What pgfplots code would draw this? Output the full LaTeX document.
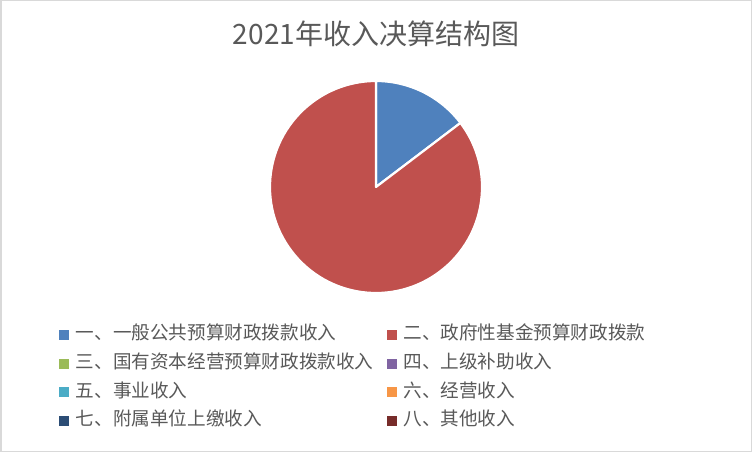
\documentclass[border=0pt]{standalone}
\usepackage{fontspec}
\setmainfont{Noto Sans CJK SC}
\usepackage{pgfplots}
\usepackage{pgfplotstable}
\pgfplotsset{compat=1.18}
\definecolor{c1}{HTML}{4F81BD}
\definecolor{c2}{HTML}{C0504D}
\definecolor{c3}{HTML}{9BBB59}
\definecolor{c4}{HTML}{8064A2}
\definecolor{c5}{HTML}{4BACC6}
\definecolor{c6}{HTML}{F79646}
\definecolor{c7}{HTML}{2C4D75}
\definecolor{c8}{HTML}{772C2A}
\definecolor{txt}{HTML}{595959}
\definecolor{frame}{HTML}{D9D9D9}
% share of each income item, percent
\pgfplotstableread{
id value
1 14.67
2 85.33
3 0
4 0
5 0
6 0
7 0
8 0
}\datatable
\pgfplotstablegetelem{0}{value}\of\datatable
\let\va\pgfplotsretval
\begin{document}
\begin{tikzpicture}
\begin{axis}[
  width=752bp, height=452bp, scale only axis,
  xmin=0, xmax=752, ymin=0, ymax=452,
  hide axis, clip=false,
  legend columns=2,
  legend cell align=left,
  legend image code/.code={\path[#1] (0bp,-5bp) rectangle (10bp,5bp);},
  legend style={
    at={(59/752,1-326/452)}, anchor=north west,
    draw=none, fill=none, inner sep=0pt, outer sep=0pt,
    font=\fontsize{18.6bp}{22bp}\selectfont, text=txt,
    row sep=10bp,
    nodes={inner sep=0pt, text height=14bp, text depth=4.6bp},
    /tikz/every odd column/.append style={column sep=7bp},
    /tikz/every even column/.append style={column sep=13bp},
  },
]
\fill[white] (axis cs:0,0) rectangle (axis cs:752,452);
\draw[frame, line width=1.5bp] (axis cs:0.75,0.75) rectangle (axis cs:751.25,451.25);
\pgfmathsetmacro\aone{90-360*\va/100}
\filldraw[fill=c1, draw=white, line width=2.2bp, line join=round] (axis cs:376,265) -- ++(90:106bp) arc[start angle=90, end angle=\aone, radius=106bp] -- cycle;
\filldraw[fill=c2, draw=white, line width=2.2bp, line join=round] (axis cs:376,265) -- ++(\aone:106bp) arc[start angle=\aone, end angle=-270, radius=106bp] -- cycle;
\node[font=\fontsize{28bp}{32bp}\selectfont, text=txt] at (axis cs:376,418) {2021年收入决算结构图};
\addlegendimage{fill=c1, draw=none}\addlegendentry{一、一般公共预算财政拨款收入}
\addlegendimage{fill=c2, draw=none}\addlegendentry{二、政府性基金预算财政拨款}
\addlegendimage{fill=c3, draw=none}\addlegendentry{三、国有资本经营预算财政拨款收入}
\addlegendimage{fill=c4, draw=none}\addlegendentry{四、上级补助收入}
\addlegendimage{fill=c5, draw=none}\addlegendentry{五、事业收入}
\addlegendimage{fill=c6, draw=none}\addlegendentry{六、经营收入}
\addlegendimage{fill=c7, draw=none}\addlegendentry{七、附属单位上缴收入}
\addlegendimage{fill=c8, draw=none}\addlegendentry{八、其他收入}
\end{axis}
\end{tikzpicture}
\end{document}
